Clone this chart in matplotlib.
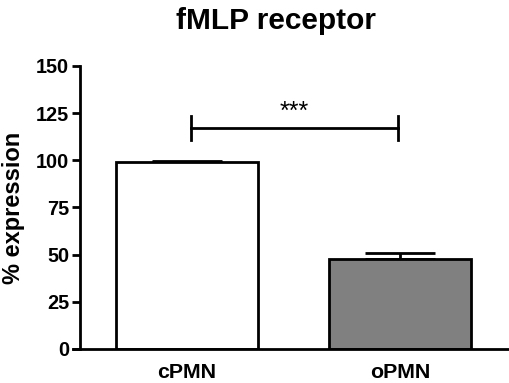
import matplotlib

matplotlib.use("Agg")
import matplotlib.pyplot as plt

# data
groups = ["cPMN", "oPMN"]
means = [99.3, 47.8]
sems = [0.5, 3.0]
fills = ["#ffffff", "#808080"]
yticks = [0, 25, 50, 75, 100, 125, 150]
sig_text = "***"
sig_y = 117
sig_tick = 6.5

plt.rcParams.update({
    "font.family": ["Liberation Sans", "DejaVu Sans"],
    "font.weight": "bold",
    "axes.labelweight": "bold",
    "axes.titleweight": "bold",
})

fig = plt.figure(figsize=(5.1, 3.83), dpi=100)
ax = fig.add_axes([0.143, 0.089, 0.853, 0.739])

x = list(range(len(groups)))
ax.bar(x, means, width=0.667, color=fills, edgecolor="black", linewidth=2,
       zorder=2)
ax.errorbar(x, means, yerr=[[0] * len(sems), sems], fmt="none",
            ecolor="black", elinewidth=2, capsize=25, capthick=2, zorder=1)

# significance bracket
ax.plot([0.02, 0.99], [sig_y, sig_y], color="black", lw=2)
ax.plot([0.02, 0.02], [sig_y - sig_tick, sig_y + sig_tick], color="black", lw=2)
ax.plot([0.99, 0.99], [sig_y - sig_tick, sig_y + sig_tick], color="black", lw=2)
ax.text(0.505, sig_y + 2.5, sig_text, ha="center", va="bottom", fontsize=18,
        fontweight="normal")

ax.set_xlim(-0.535, 1.505)
ax.set_ylim(0, 150)
ax.set_yticks(yticks)
ax.set_xticks(x, groups)
ax.spines["left"].set_position(("data", -0.5))
ax.spines[["top", "right"]].set_visible(False)
for s in ("left", "bottom"):
    ax.spines[s].set_linewidth(2)
ax.tick_params(axis="y", length=6, width=2, labelsize=14.3, pad=2)
ax.tick_params(axis="x", length=0, labelsize=15.4, pad=10)
ax.set_ylabel("% expression", fontsize=17, labelpad=8)
fig.text(0.541, 0.925, "fMLP receptor", ha="center", va="baseline",
         fontsize=21.5, fontweight="bold")

fig.savefig("out.png", dpi=100)
